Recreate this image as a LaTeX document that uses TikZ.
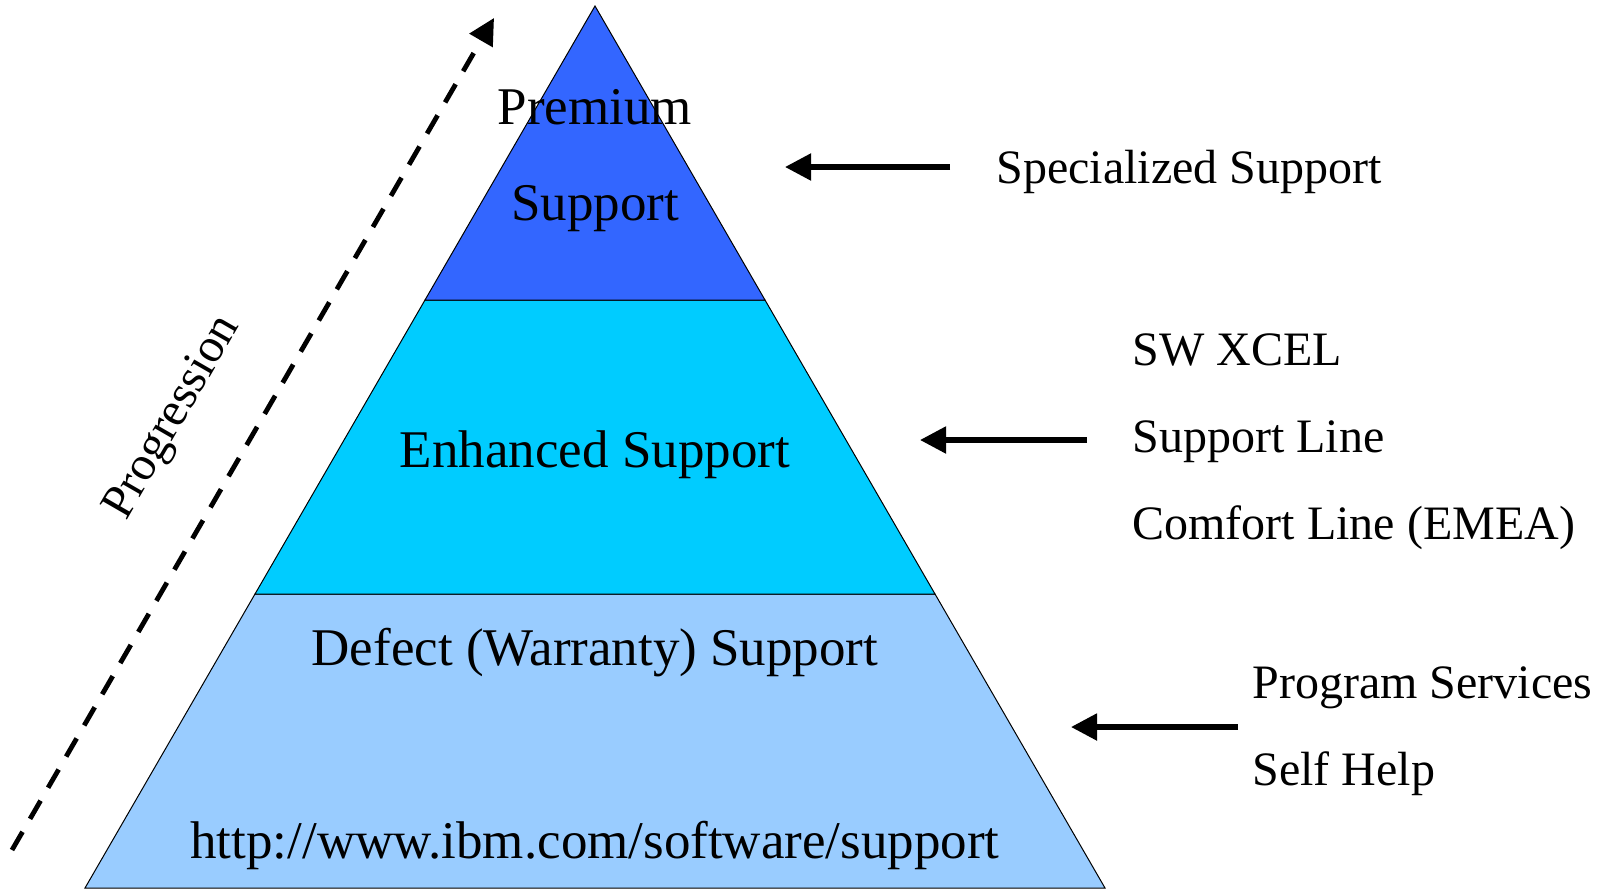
\documentclass[tikz,border=0pt]{standalone}
\usepackage{fontspec}
\setmainfont{Liberation Serif}
\usepackage{tikz}
\usetikzlibrary{arrows.meta}
\definecolor{premiumblue}{HTML}{3366FF}
\definecolor{enhancedblue}{HTML}{00CCFF}
\definecolor{defectblue}{HTML}{99CCFF}
\tikzset{band/.style={draw=black, line width=0.5pt},
%text inside the pyramid
bandtext/.style={inner sep=0pt, font=\fontsize{26.5}{30}\selectfont},
%text to the right of the pyramid
sidetext/.style={inner sep=0pt, anchor=west, font=\fontsize{24}{28}\selectfont},
pointer/.style={line width=2.6pt, -{Triangle[length=13pt, width=13pt]}}}

\begin{document}
\begin{tikzpicture}[x=0.5pt, y=-0.5pt]
\useasboundingbox (0,0) rectangle (1615,889);
%\draw [help lines, step=100] (0,0) grid (1615,889);

% pyramid bands, bottom to top
\draw[band, fill=defectblue] (85,888) -- (1105,888) -- (935,594) -- (255,594) -- cycle;
\draw[band, fill=enhancedblue] (255,594) -- (935,594) -- (765,300) -- (425,300) -- cycle;
\draw[band, fill=premiumblue] (425,300) -- (765,300) -- (595,6) -- cycle;

% band labels
\node[bandtext] (premium) at (595,107) {Premium};
\node[bandtext] (premiumsup) at (595,209) {Support};
\node[bandtext] (enhanced) at (595,455) {Enhanced Support};
\node[bandtext] (defect) at (595,653) {Defect (Warranty) Support};
\node[bandtext] (url) at (595,845) {http://www.ibm.com/software/support};

% progression arrow
\coordinate (progstart) at (12,850);
\coordinate (progend) at (494,18);
\draw[line width=2.4pt, dash pattern=on 10.5pt off 7.5pt, -{Triangle[length=13pt, width=13pt]}] (progstart) -- (progend);
\node[inner sep=0pt, rotate=60, font=\fontsize{24}{28}\selectfont] (prog) at (174,418) {Progression};

% offerings per level
\node[sidetext] (special) at (996,172) {Specialized Support};
\node[sidetext] (xcel) at (1132,350) {SW XCEL};
\node[sidetext] (supline) at (1132,442) {Support Line};
\node[sidetext] (comfort) at (1132,528) {Comfort Line (EMEA)};
\node[sidetext] (program) at (1252,688) {Program Services};
\node[sidetext] (selfhelp) at (1252,774) {Self Help};

\coordinate (ptr1a) at (950,167);
\coordinate (ptr1b) at (785,167);
\coordinate (ptr2a) at (1087,440);
\coordinate (ptr2b) at (920,440);
\coordinate (ptr3a) at (1238,727);
\coordinate (ptr3b) at (1071,727);
\draw[pointer] (ptr1a) -- (ptr1b);
\draw[pointer] (ptr2a) -- (ptr2b);
\draw[pointer] (ptr3a) -- (ptr3b);

\end{tikzpicture}
\end{document}
